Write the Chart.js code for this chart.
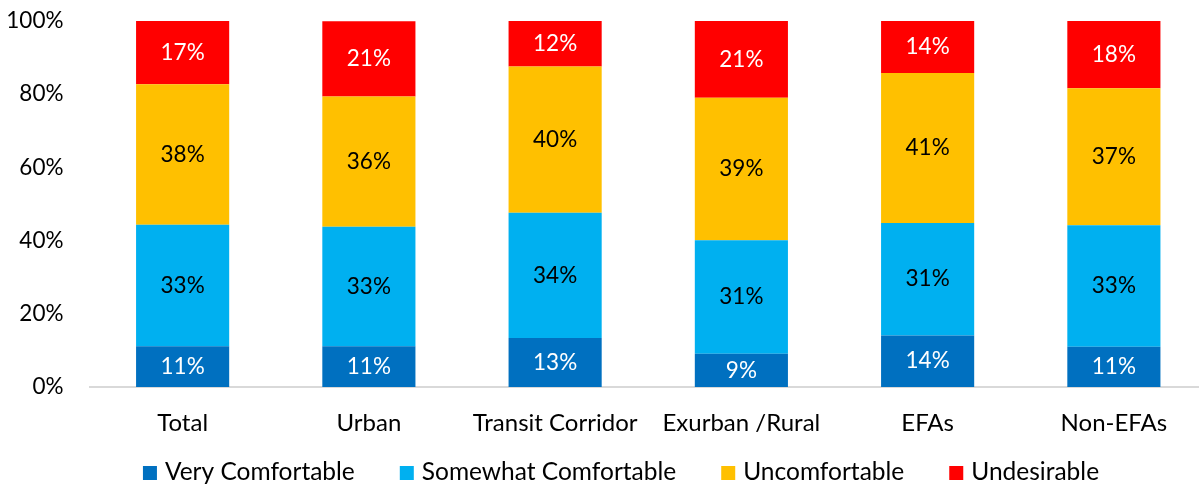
<!DOCTYPE html>
<html>
<head>
<meta charset="utf-8">
<script src="https://cdn.jsdelivr.net/npm/chart.js@4"></script>
<style>
  html, body { margin: 0; padding: 0; background: #fff; overflow: hidden; }
  #wrap { width: 1210px; height: 484px; position: relative; }
</style>
</head>
<body>
<div id="wrap"><canvas id="c"></canvas></div>
<script>
const categories = ['Total', 'Urban', 'Transit Corridor', 'Exurban /Rural', 'EFAs', 'Non-EFAs'];
const seriesNames = ['Very Comfortable', 'Somewhat Comfortable', 'Uncomfortable', 'Undesirable'];
const veryComfortable     = [11.1, 11.1, 13.4,  9.1, 14.1, 11.0];
const somewhatComfortable = [33.2, 32.7, 34.2, 31.0, 30.7, 33.2];
const uncomfortable       = [38.4, 35.6, 40.0, 38.9, 41.0, 37.4];
const undesirable         = [17.3, 20.5, 12.4, 21.0, 14.2, 18.4];
const yTicks = [0, 20, 40, 60, 80, 100];

const colors = ['#0070C0', '#00B0F0', '#FFC000', '#FF0000'];
const labelColors = ['#FFFFFF', '#000000', '#000000', '#FFFFFF'];
const FONT = 'Lato';
const numSize = 22.5;
const textSize = 24;
const legendSize = 24.5;

const seriesValues = [veryComfortable, somewhatComfortable, uncomfortable, undesirable];

const dataLabels = {
  id: 'dataLabels',
  afterDatasetsDraw(chart) {
    const ctx = chart.ctx;
    ctx.save();
    ctx.font = numSize + 'px ' + FONT;
    ctx.textAlign = 'center';
    ctx.textBaseline = 'middle';
    chart.data.datasets.forEach((ds, i) => {
      const meta = chart.getDatasetMeta(i);
      meta.data.forEach((bar, j) => {
        const v = ds.data[j];
        const cy = (bar.y + bar.base) / 2;
        ctx.fillStyle = labelColors[i];
        ctx.fillText(Math.round(v) + '%', bar.x, cy);
      });
    });
    ctx.restore();
  }
};

const customLegend = {
  id: 'customLegend',
  afterDraw(chart) {
    const ctx = chart.ctx;
    ctx.save();
    ctx.font = legendSize + 'px ' + FONT;
    const box = 14, gapText = 8, gapItem = 45;
    const items = chart.data.datasets.map((ds, i) => ({
      text: ds.label, color: colors[i], w: ctx.measureText(ds.label).width
    }));
    const total = items.reduce((s, it) => s + box + gapText + it.w, 0) + gapItem * (items.length - 1);
    let x = 621 - total / 2;
    const boxTop = 466;
    ctx.textBaseline = 'middle';
    ctx.textAlign = 'left';
    items.forEach(it => {
      ctx.fillStyle = it.color;
      ctx.fillRect(x, boxTop, box, box);
      ctx.fillStyle = '#000';
      ctx.fillText(it.text, x + box + gapText, boxTop + box / 2 - 1);
      x += box + gapText + it.w + gapItem;
    });
    ctx.restore();
  }
};

new Chart(document.getElementById('c'), {
  type: 'bar',
  data: {
    labels: categories,
    datasets: seriesNames.map((name, i) => ({
      label: name,
      data: seriesValues[i],
      backgroundColor: colors[i],
      borderWidth: 0,
      barPercentage: 0.5,
      categoryPercentage: 1.0
    }))
  },
  options: {
    responsive: true,
    maintainAspectRatio: false,
    animation: false,
    layout: { padding: { top: 21, right: 3, left: 0, bottom: 0 } },
    plugins: { legend: { display: false }, tooltip: { enabled: false } },
    scales: {
      x: {
        stacked: true,
        grid: { display: false, drawTicks: false },
        border: { display: true, color: '#D9D9D9', width: 2 },
        ticks: { color: '#000', font: { family: FONT, size: textSize }, padding: 22, maxRotation: 0, autoSkip: false },
        afterFit(scale) { scale.height = 97; scale.paddingLeft = 0; scale.paddingRight = 0; }
      },
      y: {
        stacked: true,
        min: 0, max: 100,
        afterBuildTicks(scale) { scale.ticks = yTicks.map(v => ({ value: v })); },
        grid: { display: false, drawTicks: false },
        border: { display: false },
        ticks: { color: '#000', font: { family: FONT, size: numSize }, padding: 26, callback: v => v + '%' },
        afterFit(scale) { scale.width = 89.5; scale.paddingTop = 0; scale.paddingBottom = 0; }
      }
    }
  },
  plugins: [dataLabels, customLegend]
});
</script>
</body>
</html>
